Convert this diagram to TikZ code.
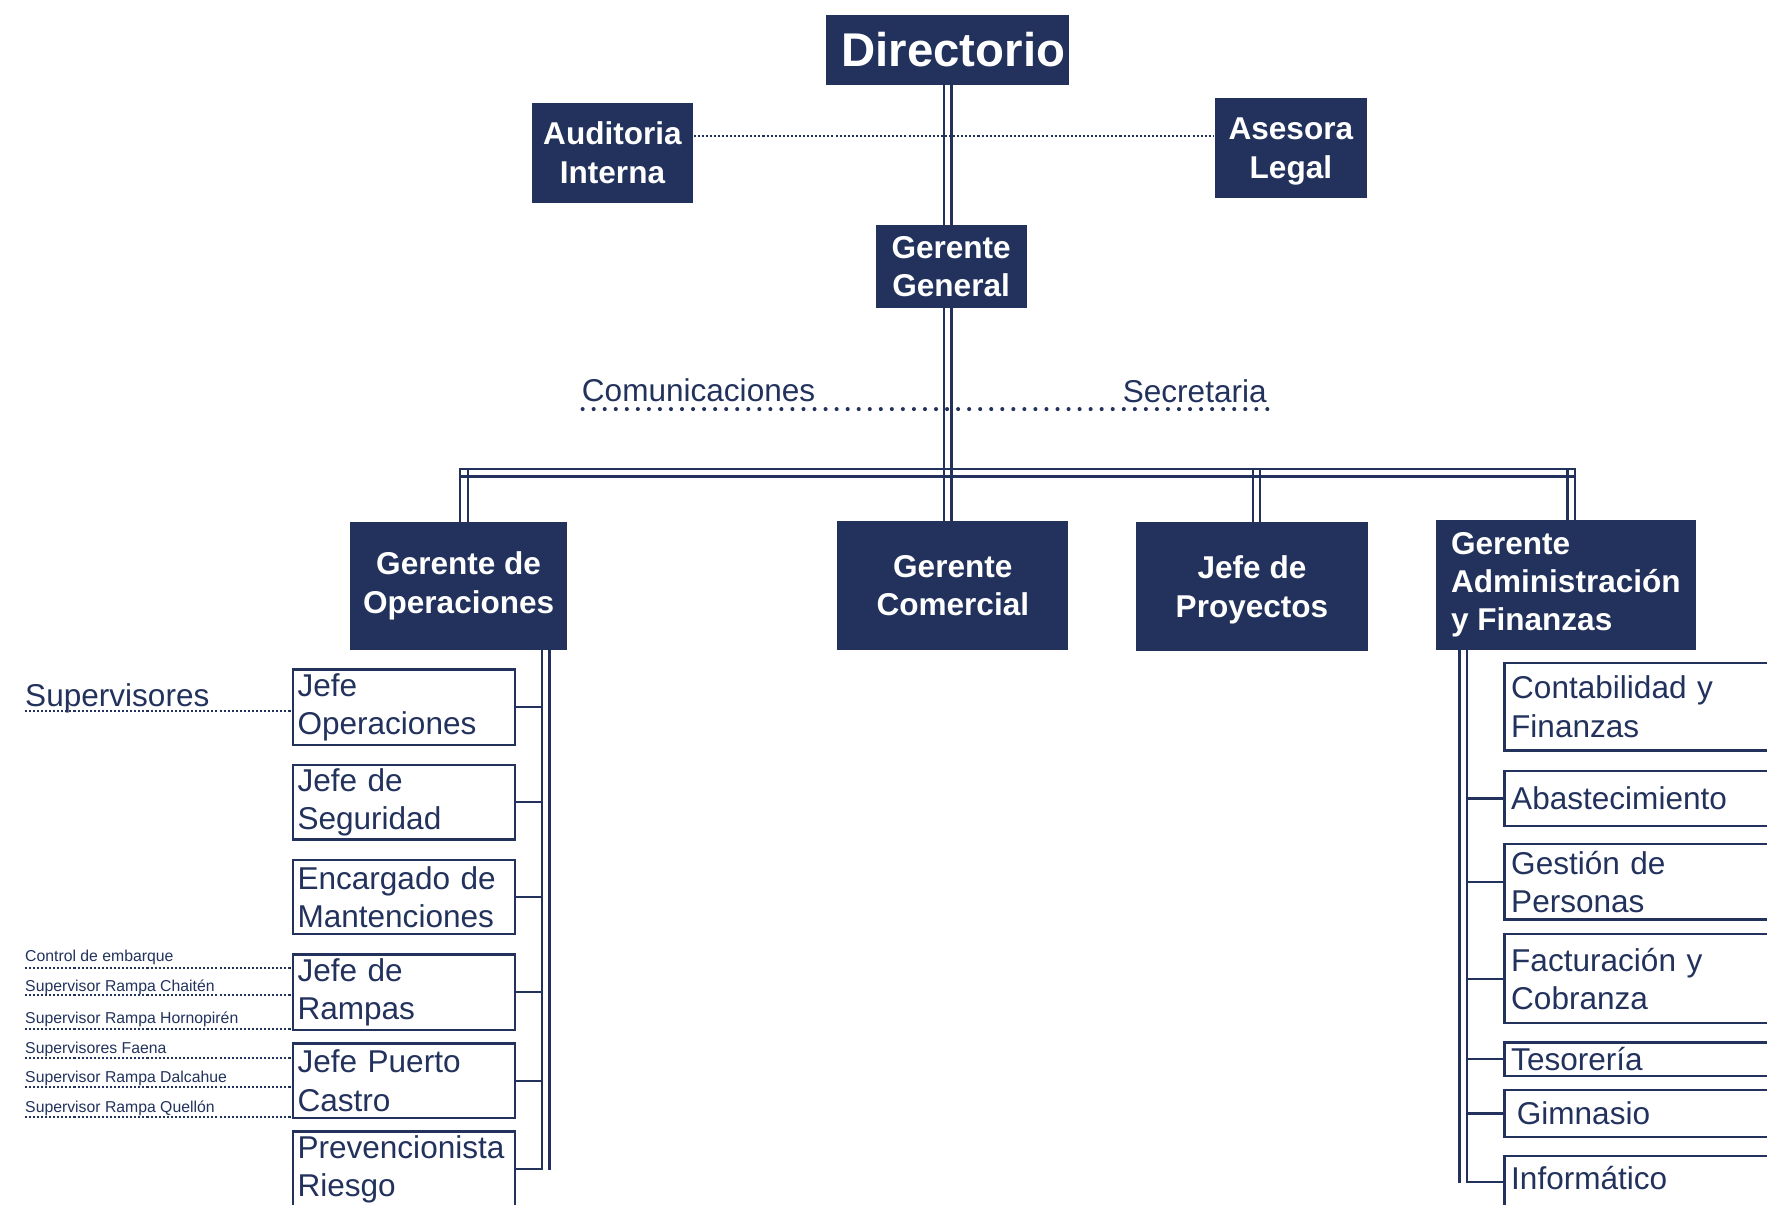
\documentclass[tikz,border=0pt]{standalone}
\usepackage{fontspec}
\setmainfont{Liberation Sans}
\usetikzlibrary{calc}
\definecolor{navy}{RGB}{34,50,92}
\newcommand\dblv[2]{%
  \draw[strand] ($#1+(-1.7pt,0)$) -- ($#2+(-1.7pt,0)$);
  \draw[strand] ($#1+(1.7pt,0)$) -- ($#2+(1.7pt,0)$);}
\begin{document}
\begin{tikzpicture}[x=0.5pt,y=-0.5pt,
  hdr/.style={fill=navy,text=white,font=\fontsize{14}{17}\selectfont\bfseries,align=center,inner sep=0pt},
  subl/.style={draw=navy,line width=1pt,text=navy,font=\fontsize{14}{17}\selectfont,align=left,inner xsep=2pt,inner ysep=0pt,minimum width=98.5pt,text width=94.5pt},
  subr/.style={draw=navy,line width=1pt,text=navy,font=\fontsize{14}{17}\selectfont,align=left,inner xsep=3pt,inner ysep=0pt,minimum width=142.5pt,text width=136.5pt},
  lbl/.style={text=navy,inner sep=0pt,anchor=base west,font=\fontsize{14}{17}\selectfont},
  tiny/.style={text=navy,inner sep=0pt,anchor=base west,font=\fontsize{7}{8}\selectfont},
  strand/.style={draw=navy,line width=1pt,line cap=rect},
  link/.style={draw=navy,line width=1pt},
  fine/.style={draw=navy,line width=0.9pt,dash pattern=on 0.9pt off 0.9pt},
  bead/.style={draw=navy,line width=1.8pt,line cap=round,dash pattern=on 0pt off 4.9pt},
]
\useasboundingbox (0,0) rectangle (1568,1069);

% ---- top level ----
\node[hdr,font=\fontsize{21}{25}\selectfont\bfseries,minimum width=108pt,minimum height=31pt] (dir) at (841,44) {\hspace*{5pt}Directorio};
\node[hdr,minimum width=71.5pt,minimum height=44.5pt] (aud) at (543.5,135.5) {Auditoria\\Interna};
\node[hdr,minimum width=67.5pt,minimum height=44.5pt,text depth=-9pt] (ase) at (1145.5,131.5) {Asesora\\Legal};
\node[hdr,minimum width=67pt,minimum height=36.5pt] (gg) at (844,236.5) {Gerente\\General};

\node[hdr,minimum width=96pt,minimum height=57pt] (gop) at (407,520) {Gerente de\\Operaciones};
\node[hdr,minimum width=102.5pt,minimum height=57.5pt,text depth=-4pt] (gcom) at (845.5,519.5) {Gerente\\Comercial};
\node[hdr,minimum width=103pt,minimum height=57.5pt,text depth=-5.5pt] (jpro) at (1111,520.5) {Jefe de\\Proyectos};
\node[hdr,align=left,minimum width=115.5pt,minimum height=58pt] (gadm) at (1389.5,519) {Gerente\\Administración\\y Finanzas};

% ---- staff labels ----
\node[lbl] (com) at (516,356) {Comunicaciones};
\node[lbl] (sec) at (996,357) {Secretaria};

% ---- operations column ----
\node[subl,minimum height=33.5pt] (jop) at (358.5,627.5) {Jefe\\Operaciones};
\node[subl,minimum height=33pt] (jseg) at (358.5,712) {Jefe de\\Seguridad};
\node[subl,minimum height=33pt] (enc) at (358.5,796) {Encargado de\\Mantenciones};
\node[subl,minimum height=33.5pt] (jram) at (358.5,880.5) {Jefe de\\Rampas};
\node[subl,minimum height=33pt] (jpc) at (358.5,959) {Jefe Puerto\\Castro};
\node[subl,minimum height=33.5pt] (prev) at (358.5,1037.5) {Prevencionista\\Riesgo};

% ---- administration column ----
\node[subr,minimum height=39pt] (cont) at (1477.5,627) {Contabilidad y\\Finanzas};
\node[subr,minimum height=24.5pt] (abas) at (1477.5,708.5) {Abastecimiento};
\node[subr,minimum height=33.5pt] (gest) at (1477.5,782.5) {Gestión de\\Personas};
\node[subr,minimum height=39.5pt] (fact) at (1477.5,868.5) {Facturación y\\Cobranza};
\node[subr,minimum height=15pt] (teso) at (1477.5,940) {Tesorería};
\node[subr,minimum height=21pt] (gim) at (1477.5,988) {\hspace{2.5pt}Gimnasio};
\node[subr,minimum height=23pt,text depth=4pt] (inf) at (1477.5,1049) {Informático};

% ---- supervisor labels ----
\node[lbl] (sup) at (22,627) {Supervisores};
\node[tiny] (s1) at (22,853) {Control de embarque};
\node[tiny] (s2) at (22,880) {Supervisor Rampa Chaitén};
\node[tiny] (s3) at (22,908) {Supervisor Rampa Hornopirén};
\node[tiny] (s4) at (22,935) {Supervisores Faena};
\node[tiny] (s5) at (22,961) {Supervisor Rampa Dalcahue};
\node[tiny] (s6) at (22,987) {Supervisor Rampa Quellón};

% ---- main trunk ----
\dblv{(dir.south)}{(dir.south |- gg.north)}
\dblv{(dir.south |- gg.south)}{(dir.south |- gcom.north)}

% ---- bus ----
\coordinate (busL) at (411.9,419.5);
\coordinate (busR) at (1394.3,419.5);
\draw[strand] ($(busL)+(-1.7pt,1.7pt)$) -- ($(busR)+(1.7pt,1.7pt)$);
\draw[strand] ($(busL)+(-1.7pt,-1.7pt)$) -- ($(busR)+(1.7pt,-1.7pt)$);
\coordinate (opst) at ($(busL)+(0,1.7pt)$);
\coordinate (admt) at ($(busR)+(0,1.7pt)$);
\coordinate (prot) at (1115,416.1);
\dblv{(opst)}{(opst |- gop.north)}
\dblv{(admt)}{(admt |- gadm.north)}
\dblv{(prot)}{(prot |- jpro.north)}

% ---- operations vertical ----
\coordinate (lvx) at (484.1,0);
\coordinate (lvi) at (480.7,0);
\dblv{(lvx |- gop.south)}{(lvx |- prev.east)}
\foreach \n in {jop,jseg,enc,jram,jpc,prev}
  \draw[link] (\n.east) -- (\n.east -| lvi);

% ---- administration vertical ----
\coordinate (rvx) at (1298.5,0);
\coordinate (rvi) at (1301.9,0);
\dblv{(rvx |- gadm.south)}{(rvx |- inf.west)}
\foreach \n in {abas,gest,fact,teso,gim,inf}
  \draw[link] (\n.west -| rvi) -- (\n.west);

% ---- dotted staff lines ----
\coordinate (dl) at ($(aud.east)+(0,7.25pt)$);
\draw[fine] (dl) -- (dl -| ase.west);
\coordinate (cl) at (517,363);
\draw[bead] (cl) -- ($(cl -| sec.east)+(3pt,0)$);

\coordinate (sl) at (22,631);
\draw[fine] (sl) -- (sl -| jop.west);
\coordinate (t1) at (22,859);
\coordinate (t2) at (22,883);
\coordinate (t3) at (22,913);
\coordinate (t4) at (22,939);
\coordinate (t5) at (22,965);
\coordinate (t6) at (22,991);
\draw[fine] (t1) -- (t1 -| jram.west);
\draw[fine] (t2) -- (t2 -| jram.west);
\draw[fine] (t3) -- (t3 -| jram.west);
\draw[fine] (t4) -- (t4 -| jpc.west);
\draw[fine] (t5) -- (t5 -| jpc.west);
\draw[fine] (t6) -- (t6 -| jpc.west);
\end{tikzpicture}
\end{document}
